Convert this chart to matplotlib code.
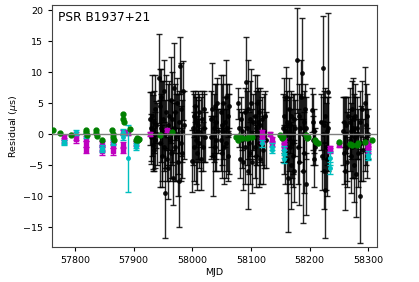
import matplotlib
matplotlib.use("Agg")
import matplotlib.pyplot as plt

# ---- black (main backend) residuals: MJD, residual (us), error (us)
black_mjd = [
    57928, 57929, 57930, 57931, 57932, 57933, 57934, 57935, 57936, 57937, 57938, 57939,
    57943, 57944, 57945, 57946, 57947, 57948, 57949, 57950, 57951, 57952, 57953, 57954, 57955, 57956,
    57958, 57959, 57960, 57962, 57963, 57964, 57965, 57966, 57967, 57968, 57969, 57970, 57971, 57972,
    57974, 57975, 57976, 57977, 57978, 57979, 57980, 57981, 57982, 57983, 57984, 57985,
    57999, 58001, 58002, 58003, 58004, 58005, 58006, 58007, 58008, 58009, 58010, 58011, 58012,
    58014, 58015, 58016, 58018, 58019, 58020, 58021,
    58031, 58032, 58034, 58035, 58036, 58037, 58038, 58039, 58040, 58041, 58042, 58043,
    58048, 58049, 58050, 58051, 58052, 58053, 58054, 58055, 58057, 58058, 58059, 58060, 58061, 58062, 58063,
    58077, 58079, 58081, 58083, 58084, 58085, 58087, 58089, 58090, 58092, 58093, 58094, 58095, 58096,
    58098, 58099, 58100, 58101, 58102, 58103,
    58106, 58107, 58108, 58109, 58110, 58111, 58112, 58113, 58114, 58115, 58116, 58118, 58119, 58120,
    58122, 58124, 58126,
    58155, 58156, 58157, 58158, 58159, 58160, 58161, 58162, 58163, 58164, 58165, 58166, 58167, 58168,
    58169, 58170, 58171, 58172, 58173, 58174, 58175,
    58179, 58180, 58181, 58182, 58183, 58185, 58187, 58188, 58189, 58190, 58191, 58192, 58193, 58194,
    58204, 58205, 58206, 58207, 58208, 58209,
    58220, 58221, 58222, 58223, 58224, 58225, 58226, 58227, 58228, 58229, 58230, 58231, 58232,
    58257, 58258, 58259, 58260, 58261, 58262, 58263, 58264, 58265,
    58268, 58269, 58270, 58271, 58272, 58273, 58274, 58275, 58276, 58277, 58278, 58279, 58280,
    58282, 58283, 58285, 58286, 58287, 58289, 58291,
    58294, 58295, 58296, 58297, 58298, 58299,
]
black_res = [
    2.5, -0.5, 1.0, 3.0, -1.8, 0.3, 2.0, -2.5, 4.0, -1.0, 1.5, 0.0,
    9.0, 4.5, -1.5, 1.0, 6.0, -3.5, 0.5, 2.5, -2.0, 7.0, 0.0, -9.5, 3.5, -4.0,
    1.5, -5.5, 3.0, -1.0, 5.5, -3.0, 0.5, 2.5, -7.0, 1.0, 7.5, -2.0, 3.5, -0.5,
    5.0, -4.5, 0.0, 2.0, -7.5, 11.0, -1.5, 4.0, 0.5, -3.0, 7.0, 1.5,
    -4.3, 1.0, 3.0, -2.0, 0.0, 4.5, -1.0, 2.0, -3.0, 0.5, 1.5, -1.5, 3.5,
    -4.0, 0.0, 2.5, -2.0, 1.0, 4.0, -0.5,
    2.5, -0.5, 4.0, -3.5, 1.0, 0.0, 4.5, -2.0, 2.0, -1.0, 5.0, 0.5,
    3.5, -1.0, 1.5, -3.0, 0.5, 5.0, -2.0, 2.0, 6.0, -1.5, 1.0, 3.0, -3.5, 0.0, 4.5,
    5.0, 1.0, -4.0, 2.5, -1.0, 0.5, -4.5, 3.5, -2.0, 8.4, 1.0, -6.0, 4.0, -1.5,
    2.5, -3.0, 5.0, 0.0, -4.5, 2.0,
    3.0, -2.0, 1.0, -3.5, 5.0, 0.0, 2.0, -1.5, 3.5, -4.0, 1.5, -0.5, 2.5, -2.5,
    0.5, 3.0, -1.0,
    1.0, -2.5, 3.0, -1.0, 0.5, 6.0, -4.0, 2.0, -7.0, 0.0, 4.0, -2.0, 1.5, -5.0,
    3.0, -1.5, 0.0, -3.5, 2.5, -6.0, 1.0,
    11.9, -2.0, 3.0, -4.5, 1.0, 6.0, 9.8, -6.0, 0.0, 2.0, -3.0, 4.0, -8.0, 1.0,
    3.9, -1.0, 2.0, -4.0, 0.5, -2.0,
    2.0, -3.5, 0.0, 10.6, -6.0, 1.5, -9.0, 3.0, -2.0, 0.5, -4.0, 6.8, 1.0,
    0.5, -3.0, 2.0, -6.0, 0.0, 1.5, -2.0, -4.5, 3.0,
    -1.0, 2.0, -3.5, 0.5, 4.0, -2.0, 1.0, -5.0, 2.5, -0.5, 3.0, -6.5, 1.0,
    -3.0, 0.0, -10.0, 2.0, -1.5, 4.0, -2.5,
    5.0, -1.0, 1.5, -3.0, 3.0, 0.0,
]
black_err = [
    4.3, 3.8, 5.8, 6.5, 4.2, 6.0, 5.0, 3.5, 5.5, 4.5, 3.8, 5.0,
    7.2, 6.0, 7.0, 5.5, 4.5, 5.0, 8.0, 6.0, 4.0, 5.0, 5.5, 7.2, 6.0, 3.5,
    6.5, 5.0, 5.5, 6.5, 7.0, 4.0, 5.0, 7.5, 4.5, 4.0, 7.2, 5.5, 4.5, 7.0,
    4.0, 5.5, 6.5, 5.0, 7.5, 4.6, 6.0, 7.5, 5.0, 4.0, 4.8, 5.5,
    5.0, 6.0, 3.5, 5.5, 4.5, 2.5, 7.0, 4.0, 6.0, 5.0, 5.5, 4.0, 3.0,
    5.0, 6.0, 4.5, 4.0, 5.5, 3.0, 4.0,
    4.5, 3.5, 7.5, 6.5, 5.5, 3.0, 3.5, 4.0, 6.0, 5.0, 4.0, 3.5,
    6.0, 5.0, 6.5, 4.0, 4.5, 4.5, 6.0, 4.0, 6.0, 5.5, 7.0, 3.5, 4.0, 6.5, 3.5,
    2.5, 3.0, 3.0, 3.5, 4.5, 3.0, 4.5, 4.0, 6.0, 7.2, 6.0, 6.0, 8.0, 5.0,
    6.0, 5.0, 5.5, 4.0, 5.0, 4.5,
    6.5, 5.0, 6.0, 5.0, 4.5, 5.0, 5.5, 7.0, 3.5, 4.0, 6.0, 4.5, 3.5, 5.5,
    6.0, 4.0, 4.5,
    5.5, 4.0, 6.0, 7.0, 5.0, 4.8, 5.5, 5.0, 8.8, 6.0, 5.0, 6.0, 4.5, 7.0,
    4.0, 5.5, 6.5, 5.0, 4.0, 5.0, 4.5,
    8.5, 6.0, 5.0, 7.0, 5.5, 6.0, 8.9, 8.4, 6.0, 5.0, 6.5, 4.0, 5.0, 5.0,
    3.6, 4.0, 4.5, 4.5, 3.5, 3.0,
    4.5, 5.5, 6.0, 8.5, 6.0, 5.5, 7.8, 4.5, 7.0, 5.5, 6.0, 12.7, 5.0,
    5.5, 5.0, 4.0, 6.3, 6.0, 4.5, 5.5, 4.0, 3.0,
    5.0, 5.5, 6.0, 4.5, 4.5, 5.0, 8.0, 6.0, 4.0, 6.5, 5.0, 6.9, 5.0,
    5.5, 4.0, 7.6, 5.0, 6.0, 4.5, 5.0,
    5.8, 5.0, 6.5, 4.0, 3.5, 4.0,
]

# ---- green backend
green_mjd = [57762, 57775, 57793, 57818, 57819, 57820, 57835, 57836, 57837, 57846,
             57863, 57864, 57865, 57866, 57881, 57882, 57883, 57894, 57904, 57906, 57908, 57909,
             57944, 57966, 58075, 58077, 58079, 58084, 58093, 58097, 58101,
             58150, 58152, 58154, 58193, 58195, 58197, 58209, 58211, 58214,
             58250, 58268, 58272, 58280, 58283, 58294, 58306]
green_res = [0.6, 0.1, -0.1, 0.7, 0.3, -0.2, 0.7, 0.2, -0.3, -0.9,
             0.6, 0.0, -0.5, -0.9, 3.2, 2.5, 2.0, 0.9, -0.9, -0.7, -1.0, -0.8,
             -0.2, 0.4, -0.4, -1.0, -0.3, -0.6, -0.6, -0.4, -0.5,
             -0.2, -0.6, -0.4, -0.2, -0.7, -0.5, -0.9, -1.2, -1.5,
             -1.2, -1.6, -1.8, -1.7, -1.5, -1.3, -1.0]
green_err = [0.2] * len(green_mjd)

# ---- magenta backend
mag_mjd = [57781, 57781, 57802, 57802, 57819, 57819, 57819, 57846, 57846, 57846,
           57864, 57864, 57864, 57882, 57882, 57882, 57891, 57904, 57928, 57957,
           58118, 58118, 58118, 58132, 58136, 58136, 58156, 58156, 58156, 58195,
           58235, 58235, 58250, 58300, 58300, 58300]
mag_res = [-0.5, -1.0, -0.3, -0.8, -0.7, -1.6, -2.5, -1.5, -2.2, -2.7,
           -1.2, -1.8, -2.8, 0.2, -1.8, -2.5, 0.2, -1.5, 0.0, 0.6,
           0.3, -0.5, -1.0, 0.0, -0.8, -1.5, -1.0, -1.6, -2.1, -0.5,
           -2.3, -2.6, -1.7, -1.5, -2.0, -2.6]
mag_err = [0.4, 0.4, 0.7, 0.6, 0.4, 0.5, 0.5, 0.4, 0.5, 0.6,
           0.4, 0.5, 0.6, 0.4, 0.5, 0.5, 0.4, 0.4, 0.3, 0.3,
           0.3, 0.4, 0.4, 0.3, 0.4, 0.4, 0.4, 0.5, 0.5, 0.3,
           0.4, 0.4, 0.3, 0.4, 0.4, 0.5]

# ---- cyan backend
cyan_mjd = [57781, 57781, 57802, 57819, 57846, 57846, 57864, 57882, 57882, 57891,
            57904, 57904, 58118, 58136, 58136, 58156, 58156, 58156, 58235, 58235,
            58300, 58300]
cyan_res = [-1.3, -1.5, 0.3, -0.3, -2.2, -2.5, -1.4, 0.3, -0.4, -3.9,
            -1.8, -2.1, -1.5, -2.0, -2.5, -2.5, -3.2, -4.0, -3.9, -5.5,
            -3.3, -3.7]
cyan_err = [0.3, 0.3, 0.4, 0.4, 0.4, 0.4, 0.4, 0.5, 0.5, 5.4,
            0.4, 0.4, 0.5, 0.5, 0.5, 0.6, 0.6, 0.7, 1.0, 1.0,
            0.5, 0.5]

pulsar = "PSR B1937+21"

fig = plt.figure(figsize=(4.19, 2.82), dpi=100)
ax = fig.add_axes([0.124, 0.124, 0.776, 0.858])

ax.errorbar(black_mjd, black_res, yerr=black_err, fmt="o", color="k", ms=2.5,
            ecolor="k", elinewidth=1.0, capsize=2, alpha=0.85, zorder=2)
ax.errorbar(mag_mjd, mag_res, yerr=mag_err, fmt="s", color="m", ms=3,
            ecolor="m", elinewidth=1.0, capsize=2, zorder=3)
ax.errorbar(cyan_mjd, cyan_res, yerr=cyan_err, fmt="o", color="c", ms=2.5,
            ecolor="c", elinewidth=1.0, capsize=2, zorder=4)
ax.errorbar(green_mjd, green_res, yerr=green_err, fmt="o", color="g", ms=3.5,
            ecolor="g", elinewidth=1.0, capsize=1, zorder=5)

ax.axhline(0, color="grey", lw=1, zorder=6)

ax.set_xlim(57760.5, 58315)
ax.set_ylim(-18.2, 20.8)
ax.set_xticks([57800, 57900, 58000, 58100, 58200, 58300])
ax.set_yticks([-15, -10, -5, 0, 5, 10, 15, 20])
ax.tick_params(labelsize=6.8, length=3, width=0.8)
ax.set_xlabel("MJD", fontsize=6.8, labelpad=2)
ax.set_ylabel(r"Residual ($\mu$s)", fontsize=6.8, labelpad=2)
ax.text(0.02, 0.975, pulsar, transform=ax.transAxes, ha="left", va="top", fontsize=8.7)
for s in ax.spines.values():
    s.set_color("#444444")

fig.savefig("out.png", dpi=100)
